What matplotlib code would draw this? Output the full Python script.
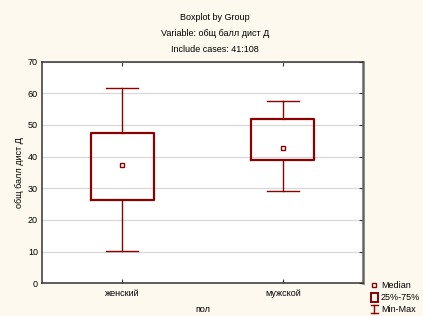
import matplotlib
matplotlib.use("Agg")
import matplotlib.pyplot as plt
from matplotlib.lines import Line2D
from matplotlib.patches import Rectangle

# data
groups = ["женский", "мужской"]
medians = [37.2, 42.7]
q1 = [26.4, 38.9]
q3 = [47.5, 51.9]
mins = [10.2, 29.1]
maxs = [61.6, 57.4]

title_lines = ["Boxplot by Group", "Variable: общ балл дист Д", "Include cases: 41:108"]
y_label = "общ балл дист Д"
x_label = "пол"
legend_labels = ["Median", "25%-75%", "Min-Max"]

BG = "#fdf9ee"
RED = "#8b0000"

plt.rcParams['font.family'] = ['Liberation Sans', 'DejaVu Sans']
plt.rcParams['font.size'] = 6.5

fig = plt.figure(figsize=(4.23, 3.16), dpi=100, facecolor=BG)
W, H = 423, 316


def fx(px):
    return px / W


def fy(py):
    return 1 - py / H


ax = fig.add_axes([fx(42), fy(283.3), fx(363) - fx(42), fy(61.5) - fy(283.3)])
ax.set_facecolor("white")

stats = []
for i in range(len(groups)):
    stats.append(dict(med=medians[i], q1=q1[i], q3=q3[i],
                      whislo=mins[i], whishi=maxs[i], fliers=[]))

pos = list(range(1, len(groups) + 1))
ax.bxp(stats, positions=pos, widths=0.395, showfliers=False,
       boxprops=dict(color=RED, linewidth=1.6),
       whiskerprops=dict(color=RED, linewidth=1.0),
       capprops=dict(color=RED, linewidth=1.0),
       medianprops=dict(linestyle="none"),
       capwidths=0.197, zorder=3)
ax.plot(pos, medians, linestyle="none", marker="s", markersize=3.2,
        markerfacecolor="white", markeredgecolor=RED, markeredgewidth=1.0, zorder=4)

ax.set_xlim(0.5, 2.5)
ax.set_ylim(0, 70)
ax.set_yticks(range(0, 71, 10))
ax.set_xticks(pos)
ax.set_xticklabels(groups)
ax.yaxis.grid(True, color="#d8d8d8", linewidth=0.9, zorder=0)
ax.set_axisbelow(True)
ax.tick_params(axis="both", direction="in", length=3, width=0.8, color="#333333",
               top=True, right=True, left=False, pad=4, labelsize=6.5)
ax.tick_params(axis="y", pad=3)
for side in ["left", "bottom", "top"]:
    ax.spines[side].set_color("#333333")
    ax.spines[side].set_linewidth(1.1)
ax.spines["right"].set_color("#666666")
ax.spines["right"].set_linewidth(1.8)

ax.set_ylabel(y_label, labelpad=3)
ax.set_xlabel(x_label, labelpad=5.5)

for line, py in zip(title_lines, [18, 34, 50]):
    fig.text(fx(215), fy(py), line, ha="center", va="center", fontsize=6.5)

# legend, drawn like Statistica's corner key
fig.add_artist(Line2D([fx(374)], [fy(285)], marker="s", markersize=3.2,
                      markerfacecolor="white", markeredgecolor=RED,
                      markeredgewidth=1.0, transform=fig.transFigure))
fig.add_artist(Rectangle((fx(370.5), fy(301.5)), fx(7), fy(293) - fy(301.5),
                         fill=False, edgecolor=RED, linewidth=1.4,
                         transform=fig.transFigure))
fig.add_artist(Line2D([fx(374), fx(374)], [fy(305), fy(313)], color=RED,
                      linewidth=1.0, transform=fig.transFigure))
for py in [305, 313]:
    fig.add_artist(Line2D([fx(370.5), fx(377.5)], [fy(py), fy(py)], color=RED,
                          linewidth=1.0, transform=fig.transFigure))
for label, py in zip(legend_labels, [285, 297, 309]):
    fig.text(fx(381), fy(py), label, ha="left", va="center", fontsize=6.5)

fig.savefig("out.png", dpi=100, facecolor=BG)
